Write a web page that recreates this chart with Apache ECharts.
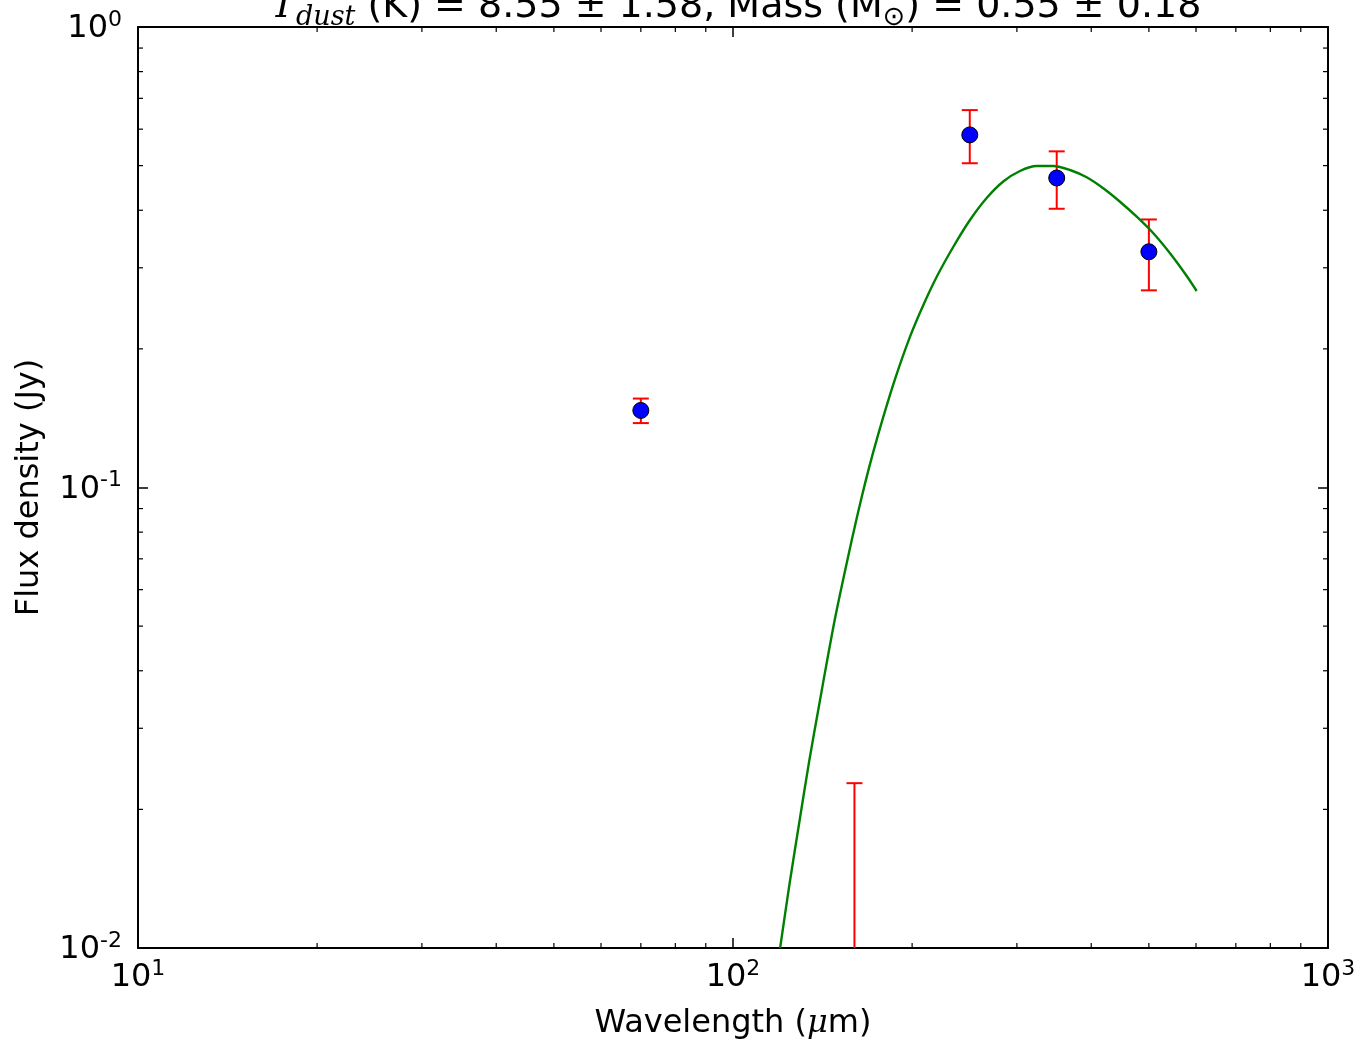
<!DOCTYPE html>
<html><head><meta charset="utf-8">
<script src="https://cdn.jsdelivr.net/npm/echarts@6/dist/echarts.min.js"></script>
<style>html,body{margin:0;padding:0;background:#fff}#c{width:1359px;height:1039px}</style>
</head><body><div id="c"></div>
<script>
// Observed photometry
const wavelengths = [70, 160, 250, 350, 500];
const fluxes = [0.147, 0.004, 0.583, 0.470, 0.325];
const fluxErrors = [0.009, 0.0188, 0.077, 0.067, 0.057];
// Fitted model curve
const modelWave = [120.0, 124.5, 129.7, 134.4, 139.4, 144.0, 148.6, 155.3, 161.4, 166.7, 172.1, 178.9, 187.2, 198.4, 208.9, 220.0, 234.6, 250.2, 266.9, 284.6, 303.6, 323.9, 345.3, 368.5, 393.0, 419.0, 447.1, 477.0, 508.7, 542.6, 578.8, 601.6];
const modelFlux = [0.0100, 0.01382, 0.01928, 0.02561, 0.03342, 0.04221, 0.05241, 0.06857, 0.08574, 0.1021, 0.1195, 0.1424, 0.1720, 0.2126, 0.2491, 0.2869, 0.3333, 0.3810, 0.4252, 0.4618, 0.4868, 0.4991, 0.4991, 0.4892, 0.4716, 0.4464, 0.4174, 0.3873, 0.3565, 0.3225, 0.2879, 0.2671];
// Axes
const xRange = [10, 1000];
const yRange = [0.01, 1];
const xMinorTicks = [20, 30, 40, 50, 60, 70, 80, 90, 200, 300, 400, 500, 600, 700, 800, 900];
const yMinorTicks = [0.02, 0.03, 0.04, 0.05, 0.06, 0.07, 0.08, 0.09, 0.2, 0.3, 0.4, 0.5, 0.6, 0.7, 0.8, 0.9];
const titleText = '{t|T}{d|dust}{n| (K) = 8.55 ± 1.58, Mass (M}{o|⊙}{n|) = 0.55 ± 0.18}';
const xName = 'Wavelength ({mu|μ}m)';
const yName = 'Flux density (Jy)';

const FONT = 'DejaVu Sans';
const chart = echarts.init(document.getElementById('c'), null, {renderer: 'canvas'});

const expLabel = v => '{b|10}{s|' + Math.round(Math.log10(v)) + '}';
const labelRich = {
  b: {fontSize: 32, fontFamily: FONT, color: '#000', lineHeight: 36, verticalAlign: 'bottom'},
  s: {fontSize: 22, fontFamily: FONT, color: '#000', lineHeight: 20, verticalAlign: 'top'}
};
const tickStyle = {show: true, inside: true, length: 10, lineStyle: {color: '#000', width: 1.5}};
const lineStyle = {show: true, onZero: false, lineStyle: {color: '#000', width: 2}};

function minorTickRender(isX) {
  return function (params, api) {
    const cs = params.coordSys;
    const v = api.value(isX ? 0 : 1);
    const L = 5;
    const st = {stroke: '#000', lineWidth: 1.2};
    if (isX) {
      const x = api.coord([v, yRange[0]])[0];
      return {type: 'group', children: [
        {type: 'line', shape: {x1: x, y1: cs.y + cs.height, x2: x, y2: cs.y + cs.height - L}, style: st},
        {type: 'line', shape: {x1: x, y1: cs.y, x2: x, y2: cs.y + L}, style: st}
      ]};
    }
    const y = api.coord([xRange[0], v])[1];
    return {type: 'group', children: [
      {type: 'line', shape: {x1: cs.x, y1: y, x2: cs.x + L, y2: y}, style: st},
      {type: 'line', shape: {x1: cs.x + cs.width, y1: y, x2: cs.x + cs.width - L, y2: y}, style: st}
    ]};
  };
}

const errData = wavelengths.map((w, i) => [w, fluxes[i], fluxes[i] - fluxErrors[i], fluxes[i] + fluxErrors[i]]);

const option = {
  backgroundColor: '#fff',
  animation: false,
  grid: {left: 138, top: 27, width: 1190, height: 921, containLabel: false, outerBoundsMode: 'none'},
  graphic: [{
    type: 'text', x: 736, y: -12,
    style: {
      text: titleText, align: 'center', verticalAlign: 'top',
      rich: {
        t: {fontSize: 38, fontFamily: 'DejaVu Serif', fontStyle: 'italic', color: '#000', lineHeight: 38, verticalAlign: 'top'},
        d: {fontSize: 27, fontFamily: 'DejaVu Serif', fontStyle: 'italic', color: '#000', lineHeight: 43, verticalAlign: 'bottom'},
        n: {fontSize: 38, fontFamily: FONT, color: '#000', lineHeight: 38, verticalAlign: 'top'},
        o: {fontSize: 27, fontFamily: FONT, color: '#000', lineHeight: 43, verticalAlign: 'bottom'}
      }
    }
  }],
  xAxis: [{
    type: 'log', logBase: 10, min: xRange[0], max: xRange[1], position: 'bottom',
    axisLine: lineStyle, axisTick: tickStyle, splitLine: {show: false},
    axisLabel: {margin: 10, formatter: expLabel, rich: labelRich},
    name: xName, nameLocation: 'middle', nameGap: 60,
    nameTextStyle: {fontSize: 32, fontFamily: FONT, color: '#000',
      rich: {mu: {fontSize: 32, fontFamily: 'DejaVu Serif', fontStyle: 'italic', color: '#000'}}}
  }, {
    type: 'log', logBase: 10, min: xRange[0], max: xRange[1], position: 'top',
    axisLine: lineStyle, axisTick: tickStyle, splitLine: {show: false}, axisLabel: {show: false}
  }],
  yAxis: [{
    type: 'log', logBase: 10, min: yRange[0], max: yRange[1], position: 'left',
    axisLine: lineStyle, axisTick: tickStyle, splitLine: {show: false},
    axisLabel: {margin: 16, formatter: expLabel, rich: labelRich},
    name: yName, nameLocation: 'middle', nameGap: 92,
    nameTextStyle: {fontSize: 32, fontFamily: FONT, color: '#000'}
  }, {
    type: 'log', logBase: 10, min: yRange[0], max: yRange[1], position: 'right',
    axisLine: lineStyle, axisTick: tickStyle, splitLine: {show: false}, axisLabel: {show: false}
  }],
  series: [
    {type: 'custom', name: 'xminor', coordinateSystem: 'cartesian2d', silent: true,
      data: xMinorTicks.map(v => [v, yRange[0]]), renderItem: minorTickRender(true), z: 1},
    {type: 'custom', name: 'yminor', coordinateSystem: 'cartesian2d', silent: true,
      data: yMinorTicks.map(v => [xRange[0], v]), renderItem: minorTickRender(false), z: 1},
    {type: 'custom', name: 'errors', coordinateSystem: 'cartesian2d', silent: true, z: 2,
      data: errData,
      renderItem: function (params, api) {
        const cs = params.coordSys;
        const w = api.value(0), lo = api.value(2), hi = api.value(3);
        const x = api.coord([w, yRange[1]])[0];
        const bottom = cs.y + cs.height, top = cs.y;
        const yHi = hi > yRange[0] ? api.coord([w, hi])[1] : bottom;
        const yLo = lo > yRange[0] ? api.coord([w, lo])[1] : bottom;
        const st = {stroke: '#ff0000', lineWidth: 2};
        const ch = [{type: 'line', shape: {x1: x, y1: Math.max(yHi, top), x2: x, y2: Math.min(yLo, bottom)}, style: st}];
        const cw = 8;
        if (hi > yRange[0]) ch.push({type: 'line', shape: {x1: x - cw, y1: yHi, x2: x + cw, y2: yHi}, style: st});
        if (lo > yRange[0]) ch.push({type: 'line', shape: {x1: x - cw, y1: yLo, x2: x + cw, y2: yLo}, style: st});
        return {type: 'group', children: ch};
      }},
    {type: 'line', name: 'model', data: modelWave.map((w, i) => [w, modelFlux[i]]),
      showSymbol: false, smooth: 0.3, clip: true, z: 3,
      lineStyle: {color: '#008000', width: 2.4}},
    {type: 'scatter', name: 'data', data: wavelengths.map((w, i) => [w, fluxes[i]]),
      symbol: 'circle', symbolSize: 16, clip: true, z: 4,
      itemStyle: {color: '#0000ff', borderColor: '#000', borderWidth: 1, opacity: 1}}
  ]
};
chart.setOption(option);
</script></body></html>
